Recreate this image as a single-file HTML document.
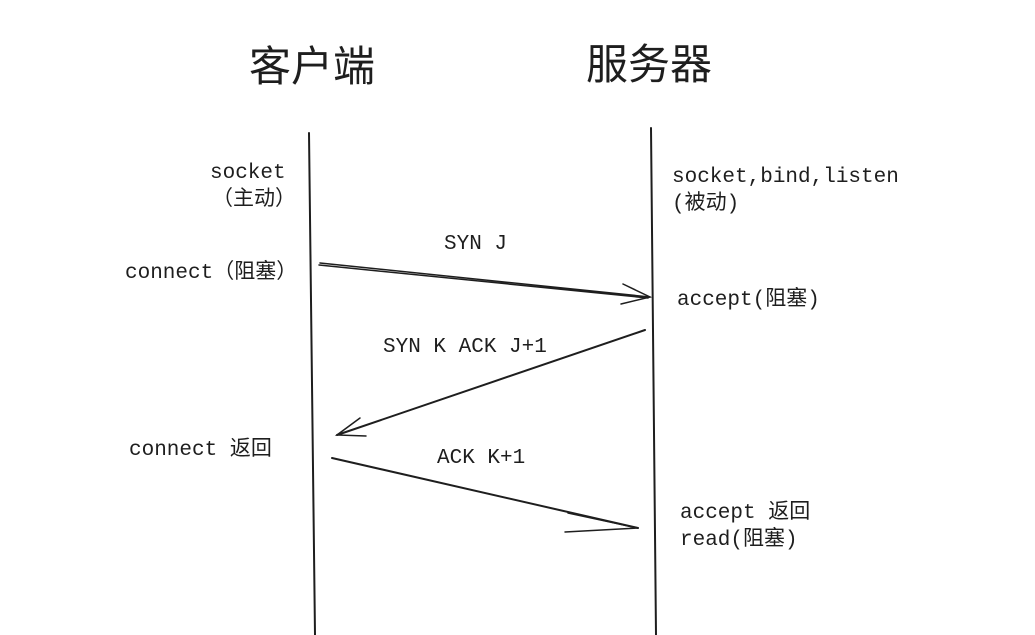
<!DOCTYPE html>
<html><head><meta charset="utf-8"><style>
html,body{margin:0;padding:0;background:#fff;width:1035px;height:635px;overflow:hidden}
text{fill:#1e1e1e}
.m{font-family:"Liberation Mono","Noto Sans CJK SC",monospace;font-size:21px}
.t{font-family:"Liberation Sans","Noto Sans CJK SC",sans-serif;font-size:42px}
</style></head><body>
<svg width="1035" height="635" viewBox="0 0 1035 635" xmlns="http://www.w3.org/2000/svg">
<text class="t" x="249" y="81">客户端</text>
<text class="t" x="586" y="79">服务器</text>
<g stroke="#1e1e1e" fill="none" stroke-linecap="round">
<path d="M309 133 L315 635" stroke-width="2"/>
<path d="M651 128 L656 635" stroke-width="2"/>
<path d="M320 263 L650 297 M319 265 L648 298" stroke-width="1.5"/>
<path d="M623 284 L650 297 L621 304" stroke-width="1.5"/>
<path d="M645 330 L337 435" stroke-width="2"/>
<path d="M360 418 L337 435 L366 436" stroke-width="1.5"/>
<path d="M332 458 L638 528" stroke-width="2"/>
<path d="M568 513 L638 528 L565 532" stroke-width="1.5" stroke-linejoin="round"/>
</g>
<text class="m" x="210" y="178">socket</text>
<text class="m" x="212" y="205">（主动）</text>
<text class="m" x="444" y="249">SYN J</text>
<text class="m" x="125" y="278">connect（阻塞）</text>
<text class="m" x="672" y="182">socket,bind,listen</text>
<text class="m" x="672" y="209">(被动)</text>
<text class="m" x="677" y="305">accept(阻塞)</text>
<text class="m" x="383" y="352">SYN K  ACK J+1</text>
<text class="m" x="129" y="455">connect  返回</text>
<text class="m" x="437" y="463">ACK K+1</text>
<text class="m" x="680" y="518">accept 返回</text>
<text class="m" x="680" y="545">read(阻塞)</text>
</svg>
</body></html>
